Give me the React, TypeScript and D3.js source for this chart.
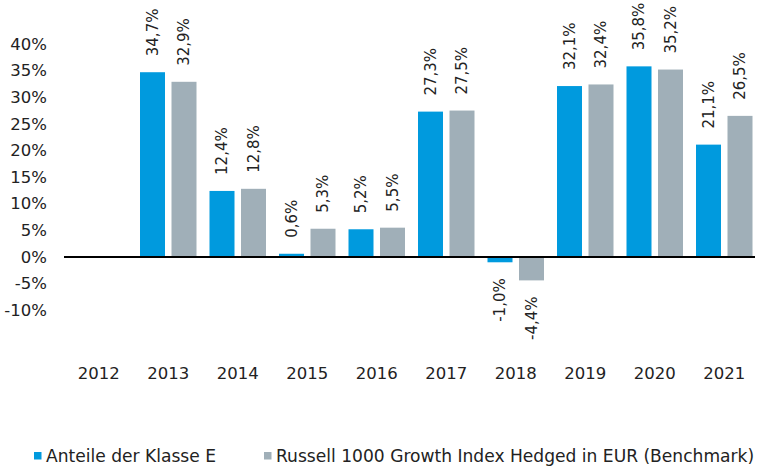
import React from "react";
import * as d3 from "d3";

const years = ["2012", "2013", "2014", "2015", "2016", "2017", "2018", "2019", "2020", "2021"];
const classE: (number | null)[] = [null, 34.7, 12.4, 0.6, 5.2, 27.3, -1.0, 32.1, 35.8, 21.1];
const benchmark: (number | null)[] = [null, 32.9, 12.8, 5.3, 5.5, 27.5, -4.4, 32.4, 35.2, 26.5];
const yTicks = [40, 35, 30, 25, 20, 15, 10, 5, 0, -5, -10];
const seriesNames = ["Anteile der Klasse E", "Russell 1000 Growth Index Hedged in EUR (Benchmark)"];
const colors = ["#009ADE", "#A0AFB8"];

const W = 762, H = 468;
const FONT = "'DejaVu Sans', sans-serif";

export default function App() {
  const x = d3.scaleBand<string>().domain(years).range([64, 759]);
  const y = d3.scaleLinear().domain([-10, 40]).range([310.2, 44]);
  const barW = 25;
  const gap = 6.5;
  const fmt = (v: number) => v.toFixed(1).replace(".", ",") + "%";
  const series = [classE, benchmark];
  return (
    <svg width={W} height={H} style={{ position: "absolute", left: 0, top: 0, fontFamily: FONT }}>
      {yTicks.map((t) => (
        <text key={t} x={47} y={y(t)} dy="0.35em" textAnchor="end" fontSize={16.5} fill="#222">
          {t}%
        </text>
      ))}
      {series.map((s, si) =>
        s.map((v, i) => {
          if (v === null) return null;
          const cx = (x(years[i]) as number) + x.bandwidth() / 2;
          const bx = si === 0 ? cx - gap / 2 - barW : cx + gap / 2;
          const y0 = y(0), yv = y(v);
          const top = Math.min(y0, yv), h = Math.abs(yv - y0);
          const lx = bx + barW / 2;
          const ly = v >= 0 ? top - 16 : top + h + 16;
          return (
            <g key={`${si}-${i}`}>
              <rect x={bx} y={top} width={barW} height={h} fill={colors[si]} />
              <text
                transform={`translate(${lx},${ly}) rotate(-90)`}
                textAnchor={v >= 0 ? "start" : "end"}
                dy="0.35em"
                fontSize={15}
                fill="#222"
              >
                {fmt(v)}
              </text>
            </g>
          );
        })
      )}
      <line x1={64} x2={755} y1={y(0)} y2={y(0)} stroke="#000" strokeWidth={2} />
      {years.map((yr) => (
        <text key={yr} x={(x(yr) as number) + x.bandwidth() / 2} y={373} dy="0.35em" textAnchor="middle" fontSize={16.5} fill="#222">
          {yr}
        </text>
      ))}
      <rect x={34} y={452} width={7.5} height={7.5} fill={colors[0]} />
      <text x={46} y={456} dy="0.35em" fontSize={17.1} fill="#222">{seriesNames[0]}</text>
      <rect x={264} y={452} width={7.5} height={7.5} fill={colors[1]} />
      <text x={276} y={456} dy="0.35em" fontSize={17.1} fill="#222">{seriesNames[1]}</text>
    </svg>
  );
}
